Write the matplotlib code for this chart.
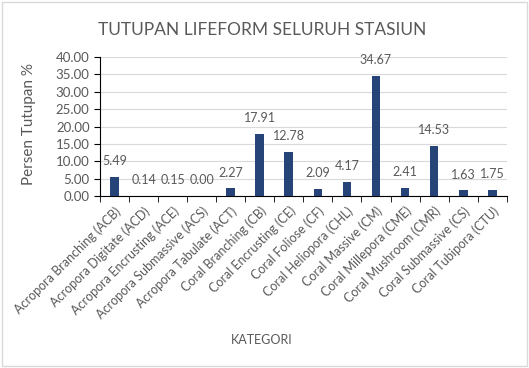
import matplotlib.pyplot as plt
from matplotlib.patches import Rectangle
import numpy as np

# data
kategori = ['Acropora Branching (ACB)', 'Acropora Digitate (ACD)', 'Acropora Encrusting (ACE)',
            'Acropora Submassive (ACS)', 'Acropora Tabulate (ACT)', 'Coral Branching (CB)',
            'Coral Encrusting (CE)', 'Coral Foliose (CF)', 'Coral Heliopora (CHL)',
            'Coral Massive (CM)', 'Coral Millepora (CME)', 'Coral Mushroom (CMR)',
            'Coral Submassive (CS)', 'Coral Tubipora (CTU)']
tutupan = [5.49, 0.14, 0.15, 0.00, 2.27, 17.91, 12.78, 2.09, 4.17, 34.67, 2.41, 14.53, 1.63, 1.75]
y_ticks = [0, 5, 10, 15, 20, 25, 30, 35, 40]

plt.rcParams['font.family'] = ['Lato', 'DejaVu Sans']
grey = '#595959'

fig = plt.figure(figsize=(5.29, 3.68), dpi=100)
ax = fig.add_axes([0.189, 0.467, 0.769, 0.378])

x = np.arange(len(kategori))
ax.bar(x, tutupan, width=0.3, color='#264478', zorder=3)
for xi, v in zip(x, tutupan):
    ax.annotate('%.2f' % v, (xi, v), xytext=(0, 7), textcoords='offset points',
                ha='center', va='bottom', fontsize=9, color=grey)

ax.set_xlim(-0.5, len(kategori) - 0.5)
ax.set_ylim(0, 40)
ax.set_yticks(y_ticks)
ax.set_yticklabels(['%.2f' % t for t in y_ticks])
ax.set_xticks(x)
ax.set_xticklabels(kategori, rotation=45, ha='right', rotation_mode='anchor')
ax.set_xticks(np.arange(-0.5, len(kategori)), minor=True)
ax.tick_params(axis='x', which='major', length=0, pad=6, labelsize=9, labelcolor=grey)
ax.tick_params(axis='x', which='minor', length=4, color='black', direction='out')
ax.tick_params(axis='y', length=4, color='black', labelsize=9.5, labelcolor=grey)
ax.grid(axis='y', color='#d9d9d9', linewidth=0.8, zorder=0)
for s in ['top', 'right']:
    ax.spines[s].set_visible(False)
ax.spines['left'].set_color('black')
ax.spines['bottom'].set_color('black')

fig.text(0.495, 0.918, 'TUTUPAN LIFEFORM SELURUH STASIUN', ha='center', va='center',
         fontsize=12.5, color=grey)
fig.text(0.055, 0.664, 'Persen Tutupan %', rotation=90, ha='center', va='center',
         fontsize=11, color=grey)
fig.text(0.495, 0.076, 'KATEGORI', ha='center', va='center', fontsize=9, color=grey)

# chart border
fig.patches.append(Rectangle((0.004, 0.006), 0.992, 0.988, transform=fig.transFigure,
                             fill=False, edgecolor='#d9d9d9', linewidth=1))

fig.savefig('out.png', dpi=100)
